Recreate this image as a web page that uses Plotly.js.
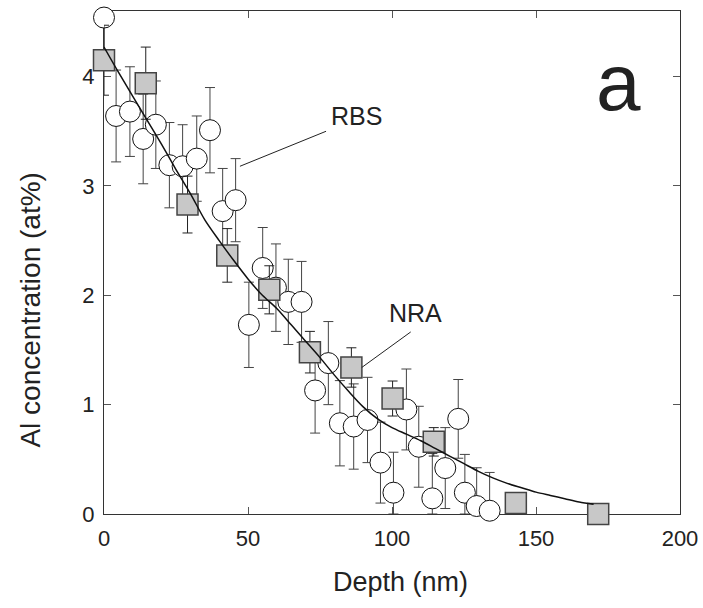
<!DOCTYPE html>
<html>
<head>
<meta charset="utf-8">
<script src="https://cdn.plot.ly/plotly-3.0.1.min.js"></script>
<style>html,body{margin:0;padding:0;background:#fff;}#chart{width:703px;height:608px;}</style>
</head>
<body>
<div id="chart"></div>
<script>
// RBS (circles)
const rbsDepth = [0, 4.2, 9.0, 13.6, 18.0, 22.7, 27.3, 32.2, 36.8, 41.2, 45.7, 50.3, 55.1, 59.7, 64.0, 68.6, 73.3, 77.9, 81.9, 86.7, 91.5, 96.0, 100.5, 105.0, 109.3, 114.0, 118.5, 123.0, 125.3, 129.4, 133.9];
const rbsConc  = [4.54, 3.64, 3.68, 3.43, 3.56, 3.19, 3.18, 3.25, 3.51, 2.77, 2.87, 1.73, 2.25, 2.07, 1.94, 1.94, 1.13, 1.38, 0.83, 0.80, 0.86, 0.47, 0.195, 0.956, 0.615, 0.143, 0.42, 0.87, 0.195, 0.073, 0.03];
const rbsErr   = [0.40, 0.42, 0.41, 0.41, 0.40, 0.39, 0.38, 0.39, 0.39, 0.39, 0.38, 0.39, 0.37, 0.40, 0.39, 0.37, 0.39, 0.38, 0.39, 0.39, 0.39, 0.37, 0.37, 0.37, 0.37, 0.41, 0.37, 0.36, 0.35, 0.35, 0.35];
// NRA (squares)
const nraDepth = [0, 14.5, 29.0, 42.8, 57.4, 71.5, 85.9, 100.2, 114.5, 143.0, 171.6];
const nraConc  = [4.15, 3.94, 2.83, 2.365, 2.05, 1.48, 1.34, 1.056, 0.66, 0.10, 0.0];
const nraErr   = [0.32, 0.33, 0.26, 0.245, 0.22, 0.19, 0.18, 0.16, 0.13, 0.08, 0.05];
// Fit curve
const fitDepth = [0,5,10,15,20,25,30,35,40,45,50,55,60,65,70,75,80,85,90,95,100,105,110,115,120,125,130,135,140,145,150,155,160,165,170];
const fitConc  = [4.27,4.04,3.82,3.60,3.38,3.15,2.93,2.69,2.50,2.32,2.15,2.00,1.88,1.73,1.58,1.43,1.27,1.12,0.98,0.87,0.79,0.73,0.67,0.60,0.53,0.46,0.39,0.33,0.28,0.24,0.20,0.17,0.14,0.11,0.09];
const xTicks = [0, 50, 100, 150, 200];
const yTicks = [0, 1, 2, 3, 4];

const clipMinus = (v, e) => v.map((y, i) => Math.min(e[i], y));

const traces = [
  { // RBS error bars (clipped to plot)
    x: rbsDepth, y: rbsConc, type: 'scatter', mode: 'markers', cliponaxis: true,
    marker: {size: 21, color: 'rgba(0,0,0,0)', line: {width: 0}},
    error_y: {type: 'data', symmetric: false, array: rbsErr, arrayminus: clipMinus(rbsConc, rbsErr), color: '#444', thickness: 1, width: 5},
    hoverinfo: 'skip', showlegend: false
  },
  { // RBS markers
    x: rbsDepth, y: rbsConc, type: 'scatter', mode: 'markers', cliponaxis: false,
    marker: {symbol: 'circle', size: 21, color: '#ffffff', line: {color: '#111', width: 1}},
    showlegend: false
  },
  { // NRA error bars
    x: nraDepth, y: nraConc, type: 'scatter', mode: 'markers', cliponaxis: true,
    marker: {size: 21, color: 'rgba(0,0,0,0)', line: {width: 0}},
    error_y: {type: 'data', symmetric: false, array: nraErr, arrayminus: clipMinus(nraConc, nraErr), color: '#222', thickness: 1, width: 5},
    hoverinfo: 'skip', showlegend: false
  },
  { // NRA markers
    x: nraDepth, y: nraConc, type: 'scatter', mode: 'markers', cliponaxis: false,
    marker: {symbol: 'square', size: 21, color: '#c8c8c8', line: {color: '#444', width: 1.5}},
    showlegend: false
  },
  { // fit
    x: fitDepth, y: fitConc, type: 'scatter', mode: 'lines', cliponaxis: false,
    line: {color: '#111', width: 1.5, shape: 'spline', smoothing: 0.8},
    showlegend: false
  }
];

const font = 'Liberation Sans, Arial, sans-serif';
const layout = {
  width: 703, height: 608,
  margin: {l: 104, r: 23, t: 11, b: 94},
  paper_bgcolor: '#fff', plot_bgcolor: '#fff',
  font: {family: font, color: '#222', size: 22},
  xaxis: {
    range: [0, 200], tickvals: xTicks, ticktext: xTicks.map(String),
    ticks: 'inside', ticklen: 7, tickwidth: 1, tickcolor: '#555',
    showline: true, linecolor: '#333', linewidth: 1, mirror: 'ticks',
    showgrid: false, zeroline: false, layer: 'below traces', ticklabelstandoff: 5,
    tickfont: {size: 22, family: font, color: '#222'}
  },
  yaxis: {
    range: [0, 4.6], tickvals: yTicks, ticktext: yTicks.map(String),
    ticks: 'inside', ticklen: 7, tickwidth: 1, tickcolor: '#555',
    showline: true, linecolor: '#333', linewidth: 1, mirror: 'ticks',
    showgrid: false, zeroline: false, layer: 'below traces', ticklabelstandoff: 4,
    tickfont: {size: 22, family: font, color: '#222'}
  },
  shapes: [
    {type: 'line', xref: 'x', yref: 'y', x0: 47.2, y0: 3.18, x1: 77.1, y1: 3.50, line: {color: '#222', width: 1}},
    {type: 'line', xref: 'x', yref: 'y', x0: 89.5, y0: 1.34, x1: 106.5, y1: 1.665, line: {color: '#222', width: 1}}
  ],
  annotations: [
    {text: 'RBS', x: 87.8, y: 3.64, xref: 'x', yref: 'y', showarrow: false, font: {size: 25, family: font, color: '#222'}},
    {text: 'NRA', x: 108, y: 1.84, xref: 'x', yref: 'y', showarrow: false, font: {size: 25, family: font, color: '#222'}},
    {text: 'a', x: 178.5, y: 3.95, xref: 'x', yref: 'y', showarrow: false, font: {size: 80, family: font, color: '#222'}},
    {text: 'Depth (nm)', x: 0.514, y: -0.135, xref: 'paper', yref: 'paper', xanchor: 'center', yanchor: 'middle', showarrow: false, font: {size: 27, family: font, color: '#222'}},
    {text: 'Al concentration (at%)', x: -0.128, y: 0.405, xref: 'paper', yref: 'paper', xanchor: 'center', yanchor: 'middle', textangle: -90, showarrow: false, font: {size: 28, family: font, color: '#222'}}
  ]
};

Plotly.newPlot('chart', traces, layout, {displayModeBar: false, staticPlot: true});
</script>
</body>
</html>
